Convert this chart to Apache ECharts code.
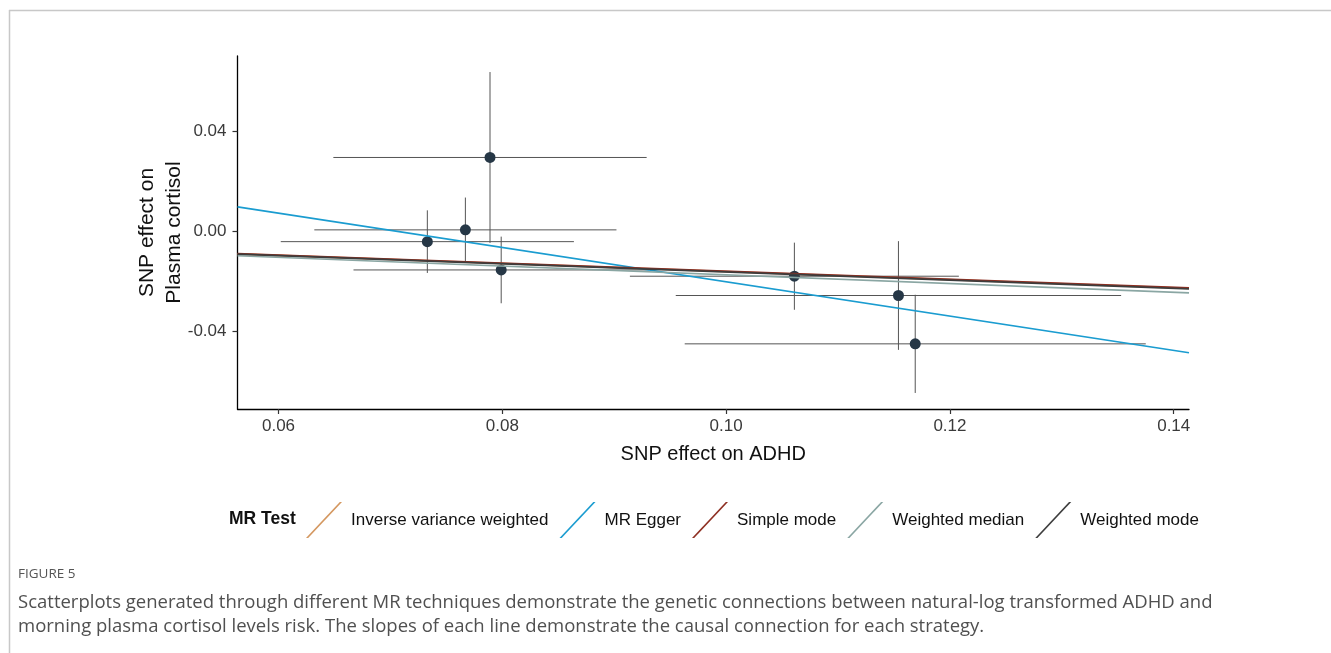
<!DOCTYPE html>
<html>
<head>
<meta charset="utf-8">
<script src="https://cdn.jsdelivr.net/npm/echarts@6/dist/echarts.min.js"></script>
<style>
html,body{margin:0;padding:0;background:#fff;}
#chart{width:1331px;height:653px;}
</style>
</head>
<body>
<div id="chart"></div>
<script>
// ---- data ----
const xTicks = [0.06, 0.08, 0.10, 0.12, 0.14];
const yTicks = [-0.04, 0.00, 0.04];
const snpX = [0.0733, 0.0767, 0.0789, 0.0799, 0.1061, 0.1154, 0.1169];
const snpY = [-0.0042, 0.0005, 0.0294, -0.0155, -0.0180, -0.0257, -0.0450];
const xErr = [0.0131, 0.0135, 0.0140, 0.0132, 0.0147, 0.0199, 0.0206];
const yErr = [0.0125, 0.0129, 0.0341, 0.0133, 0.0134, 0.0217, 0.0196];
const methods = ['Inverse variance weighted', 'MR Egger', 'Simple mode', 'Weighted median', 'Weighted mode'];
const slopes = [-0.1615, -0.6844, -0.1600, -0.1745, -0.1630];
const intercepts = [0, 0.0482, 0, 0, 0];
const methodColors = ['#D4975F', '#1A9CD0', '#8E2F22', '#8AA6A3', '#3D3D3D'];
const legendTitle = 'MR Test';
const xTitle = 'SNP effect on ADHD';
const yTitle = 'SNP effect on\nPlasma cortisol';
const figLabel = 'FIGURE 5';
const captionLines = [
  'Scatterplots generated through different MR techniques demonstrate the genetic connections between natural-log transformed ADHD and',
  'morning plasma cortisol levels risk. The slopes of each line demonstrate the causal connection for each strategy.'
];

// ---- axis ranges: data extent expanded by 5% (ggplot style) ----
function expand(lo, hi) { const d = (hi - lo) * 0.05; return [lo - d, hi + d]; }
const xr = expand(Math.min(...snpX.map((v, i) => v - xErr[i])), Math.max(...snpX.map((v, i) => v + xErr[i])));
const yr = expand(Math.min(...snpY.map((v, i) => v - yErr[i])), Math.max(...snpY.map((v, i) => v + yErr[i])));

const FONT = '"Liberation Sans", Arial, sans-serif';
const CAPFONT = '"Open Sans", "Noto Sans", sans-serif';
const chart = echarts.init(document.getElementById('chart'), null, { renderer: 'canvas' });

const lineSeries = methods.map((m, i) => ({
  name: m,
  type: 'line',
  data: [[xr[0], intercepts[i] + slopes[i] * xr[0]], [xr[1], intercepts[i] + slopes[i] * xr[1]]],
  symbol: 'none',
  color: methodColors[i],
  lineStyle: { width: 1.7, color: methodColors[i] },
  z: 5 + i,
  silent: true,
  clip: true
}));

const option = {
  animation: false,
  backgroundColor: '#fff',
  grid: { left: 237.5, right: 142, top: 56, bottom: 244, containLabel: false },
  xAxis: {
    type: 'value', min: xr[0], max: xr[1],
    name: xTitle, nameLocation: 'middle', nameGap: 35,
    nameTextStyle: { fontFamily: FONT, fontSize: 20, color: '#111' },
    axisLine: { show: true, onZero: false, lineStyle: { color: '#000', width: 1.3 } },
    axisTick: { show: true, length: 5, lineStyle: { color: '#333', width: 1.2 }, customValues: xTicks },
    axisLabel: { fontFamily: FONT, fontSize: 17, color: '#3a3a3a', margin: 9, customValues: xTicks,
      formatter: v => v.toFixed(2) },
    splitLine: { show: false }
  },
  yAxis: {
    type: 'value', min: yr[0], max: yr[1],
    name: yTitle, nameLocation: 'middle', nameGap: 50, nameMoveOverlap: false,
    nameTextStyle: { fontFamily: FONT, fontSize: 21, color: '#111', lineHeight: 27 },
    axisLine: { show: true, onZero: false, lineStyle: { color: '#000', width: 1.3 } },
    axisTick: { show: true, length: 5, lineStyle: { color: '#333', width: 1.2 }, customValues: yTicks },
    axisLabel: { fontFamily: FONT, fontSize: 17, color: '#3a3a3a', margin: 11, customValues: yTicks,
      formatter: v => v.toFixed(2) },
    splitLine: { show: false }
  },
  legend: {
    data: methods,
    left: 306, top: 502,
    padding: 0,
    itemWidth: 36, itemHeight: 36, itemGap: 11,
    icon: 'path://M0,36 L2.2,36 L36,0 L33.8,0 Z',
    textStyle: { fontFamily: FONT, fontSize: 17, color: '#111', padding: [0, 0, 0, 4] },
    selectedMode: false
  },
  graphic: [
    { type: 'line', shape: { x1: 9, y1: 10.5, x2: 1331, y2: 10.5 }, style: { stroke: '#c8c8c8', lineWidth: 1.5 }, silent: true },
    { type: 'line', shape: { x1: 9.5, y1: 10, x2: 9.5, y2: 653 }, style: { stroke: '#c8c8c8', lineWidth: 1.5 }, silent: true },
    { type: 'text', left: 229, top: 510, style: { text: legendTitle, font: 'bold 17.5px ' + FONT, fill: '#111' } },
    { type: 'text', left: 18, top: 567, style: { text: figLabel, font: '13.5px ' + CAPFONT, fill: '#555' } },
    { type: 'text', left: 18, top: 593, style: { text: captionLines[0], font: '18.5px ' + CAPFONT, fill: '#505050' } },
    { type: 'text', left: 18, top: 617, style: { text: captionLines[1], font: '18.5px ' + CAPFONT, fill: '#505050' } }
  ],
  series: [
    {
      type: 'custom',
      name: 'errorbars',
      silent: true,
      z: 2,
      data: snpX.map((x, i) => [x, snpY[i], xErr[i], yErr[i]]),
      encode: { x: 0, y: 1 },
      renderItem: function (params, api) {
        const x = api.value(0), y = api.value(1), ex = api.value(2), ey = api.value(3);
        const l = api.coord([x - ex, y]), r = api.coord([x + ex, y]);
        const t = api.coord([x, y + ey]), b = api.coord([x, y - ey]);
        const st = { stroke: '#555', lineWidth: 1 };
        return {
          type: 'group',
          children: [
            { type: 'line', shape: { x1: l[0], y1: l[1], x2: r[0], y2: r[1] }, style: st },
            { type: 'line', shape: { x1: t[0], y1: t[1], x2: b[0], y2: b[1] }, style: st }
          ]
        };
      }
    },
    {
      type: 'scatter',
      name: 'SNPs',
      data: snpX.map((x, i) => [x, snpY[i]]),
      symbol: 'circle',
      symbolSize: 11,
      itemStyle: { color: '#263746', opacity: 1 },
      z: 3,
      silent: true
    },
    ...lineSeries
  ]
};
chart.setOption(option);
</script>
</body>
</html>
